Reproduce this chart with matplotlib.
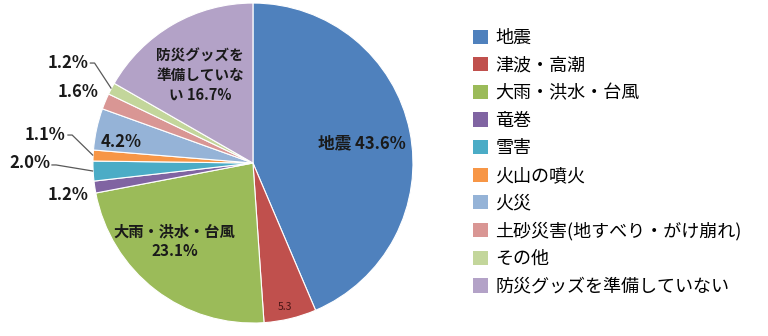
import numpy as np
import matplotlib
matplotlib.use("Agg")
import matplotlib.pyplot as plt
from matplotlib.patches import Patch

plt.rcParams['font.family'] = ['Noto Sans CJK JP', 'DejaVu Sans']

# 防災グッズの準備状況（想定している災害別）
categories = ['地震', '津波・高潮', '大雨・洪水・台風', '竜巻', '雪害', '火山の噴火',
              '火災', '土砂災害(地すべり・がけ崩れ)', 'その他', '防災グッズを準備していない']
values = [43.6, 5.3, 23.1, 1.2, 2.0, 1.1, 4.2, 1.6, 1.2, 16.7]
colors = ['#4F81BD', '#C0504D', '#9BBB59', '#8064A2', '#4BACC6', '#F79646',
          '#95B3D7', '#D99694', '#C3D69B', '#B3A2C7']

fig = plt.figure(figsize=(7.68, 3.36), dpi=100)
ax = fig.add_axes([0, 0, 1, 1])
wedges, _ = ax.pie(values, colors=colors, startangle=90, counterclock=False,
                   radius=1.0, wedgeprops=dict(edgecolor='white', linewidth=0.8))
ax.set_xlim(-1.581, 3.219)
ax.set_ylim(-1.081, 1.019)
ax.axis('off')

# 各スライスの中心角
total = sum(values)
ends = 90 - np.cumsum(values) / total * 360
mids = ends + np.array(values) / total * 180


def edge(i, r=1.0):
    a = np.deg2rad(mids[i])
    return r * np.cos(a), r * np.sin(a)


lab = dict(fontsize=12, fontweight='bold', ha='center', va='center', color='#1a1a1a')

ax.text(0.68, 0.125, f'地震 {values[0]}%', **lab)
ax.text(0.2, -0.9, f'{values[1]}', fontsize=7.5, ha='center', va='center', color='#4a1515')
ax.text(-0.49, -0.49, f'大雨・洪水・台風\n{values[2]}%', linespacing=1.3,
        **{**lab, 'fontsize': 11})
ax.text(-1.156, -0.2, f'{values[3]}%', **lab)
ax.text(-1.394, 0.0, f'{values[4]}%', **lab)
ax.text(-1.3, 0.175, f'{values[5]}%', **lab)
ax.text(-0.825, 0.13, f'{values[6]}%', **lab)
ax.text(-1.094, 0.444, f'{values[7]}%', **lab)
ax.text(-1.156, 0.625, f'{values[8]}%', **lab)
ax.text(-0.33, 0.55, f'防災グッズを\n準備していな\nい {values[9]}%', linespacing=1.3,
        **{**lab, 'fontsize': 10.5})

# 引き出し線
line = dict(color='#595959', linewidth=0.9, solid_capstyle='butt')
for i, (tx, ty) in [(4, (-1.26, -0.012)), (5, (-1.16, 0.175)), (8, (-1.02, 0.625))]:
    ex, ey = edge(i)
    ax.plot([tx, tx + 0.03, ex], [ty, ty, ey], **line)

handles = [Patch(facecolor=c, edgecolor='none') for c in colors]
fig.legend(handles, categories, loc='upper left', bbox_to_anchor=(473 / 768, 1 - 29 / 336),
           frameon=False, fontsize=13, handlelength=0.83, handleheight=0.83,
           handletextpad=0.4, labelspacing=0.53, borderpad=0, borderaxespad=0)

fig.savefig('out.png', dpi=100, facecolor='white')
